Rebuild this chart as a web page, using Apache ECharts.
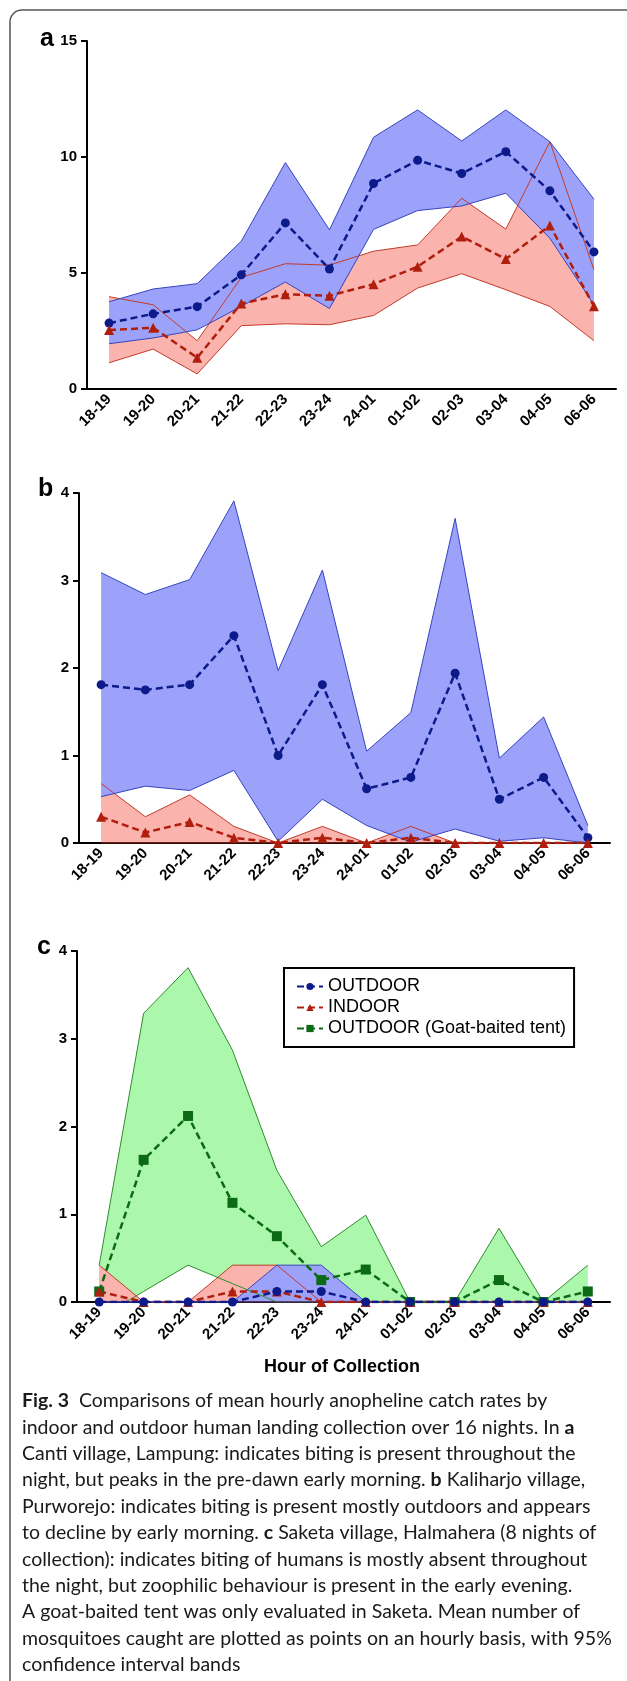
<!DOCTYPE html>
<html><head><meta charset="utf-8">
<script src="https://cdn.jsdelivr.net/npm/echarts/dist/echarts.min.js"></script>
<style>html,body{margin:0;padding:0;background:#fff}#c{width:627px;height:1681px}</style>
</head><body><div id="c"></div>
<script>
// ---------- data ----------
const categories = ['18-19','19-20','20-21','21-22','22-23','23-24','24-01','01-02','02-03','03-04','04-05','06-06'];

// panel a (Canti village, Lampung)
const aOutMean  = [2.84,3.24,3.55,4.92,7.16,5.17,8.86,9.86,9.29,10.23,8.54,5.91];
const aOutUpper = [3.76,4.31,4.54,6.37,9.76,6.86,10.85,12.03,10.69,12.03,10.66,8.18];
const aOutLower = [1.95,2.20,2.55,3.56,4.61,3.47,6.88,7.69,7.89,8.44,6.50,3.63];
const aInMean   = [2.54,2.64,1.35,3.69,4.08,4.02,4.52,5.27,6.57,5.60,7.05,3.57];
const aInUpper  = [3.98,3.63,2.08,4.81,5.40,5.34,5.94,6.21,8.22,6.89,10.66,5.14];
const aInLower  = [1.13,1.72,0.65,2.73,2.81,2.77,3.17,4.35,4.97,4.28,3.56,2.08];

// panel b (Kaliharjo village, Purworejo)
const bOutMean  = [1.81,1.75,1.81,2.37,1.00,1.81,0.62,0.75,1.94,0.50,0.75,0.06];
const bOutUpper = [3.09,2.84,3.01,3.91,1.97,3.12,1.05,1.49,3.71,0.97,1.44,0.20];
const bOutLower = [0.53,0.65,0.60,0.83,0.02,0.50,0.20,0.01,0.16,0.02,0.06,0.00];
const bInMean   = [0.30,0.12,0.24,0.06,0,0.06,0,0.06,0,0,0,0];
const bInUpper  = [0.68,0.30,0.55,0.19,0,0.19,0,0.19,0,0,0,0];
const bInLower  = [0,0,0,0,0,0,0,0,0,0,0,0];

// panel c (Saketa village, Halmahera)
const cOutMean   = [0,0,0,0,0.12,0.12,0,0,0,0,0,0];
const cOutUpper  = [0,0,0,0,0.42,0.42,0,0,0,0,0,0];
const cOutLower  = [0,0,0,0,0,0,0,0,0,0,0,0];
const cInMean    = [0.12,0,0,0.12,0.12,0,0,0,0,0,0,0];
const cInUpper   = [0.42,0,0,0.42,0.42,0,0,0,0,0,0,0];
const cInLower   = [0,0,0,0,0,0,0,0,0,0,0,0];
const cGoatMean  = [0.12,1.62,2.12,1.13,0.75,0.25,0.37,0,0,0.25,0,0.12];
const cGoatUpper = [0.42,3.29,3.81,2.87,1.50,0.63,0.99,0,0,0.84,0,0.42];
const cGoatLower = [-0.18,0.12,0.42,0.21,0,0,0,0,0,0,0,0];

const yTicksA = {min:0, max:15, interval:5};
const yTicksBC = {min:0, max:4, interval:1};

const legendNames = ['OUTDOOR','INDOOR','OUTDOOR (Goat-baited tent)'];
const xTitle = 'Hour of Collection';
const captionLines = [
  '{b|Fig. 3}  Comparisons of mean hourly anopheline catch rates by',
  'indoor and outdoor human landing collection over 16 nights. In {b|a}',
  'Canti village, Lampung: indicates biting is present throughout the',
  'night, but peaks in the pre-dawn early morning. {b|b} Kaliharjo village,',
  'Purworejo: indicates biting is present mostly outdoors and appears',
  'to decline by early morning. {b|c} Saketa village, Halmahera (8 nights of',
  'collection): indicates biting of humans is mostly absent throughout',
  'the night, but zoophilic behaviour is present in the early evening.',
  'A goat-baited tent was only evaluated in Saketa. Mean number of',
  'mosquitoes caught are plotted as points on an hourly basis, with 95%',
  'confidence interval bands'
];

// ---------- styles ----------
const COL = {
  blue:  {mean:'#0c1a8a', edge:'#3543bf', fill:'#9ca2f9'},
  red:   {mean:'#b01e0e', edge:'#c23a2a', fill:'#fbb3ae'},
  green: {mean:'#0b6a16', edge:'#2f8c2f', fill:'#abf7ab'}
};
const AXF = "'Liberation Sans',Arial,sans-serif";
const CAPF = "Lato,'Open Sans',sans-serif";

function band(gi, key, lower, upper, col, z) {
  const diff = upper.map((u, i) => +(u - lower[i]).toFixed(4));
  const st = 'band' + gi + key;
  return [
    {type:'line', name:key+' lower', xAxisIndex:gi, yAxisIndex:gi, data:lower, stack:st, stackStrategy:'all',
     symbol:'none', lineStyle:{width:0, opacity:0}, silent:true, z:z},
    {type:'line', name:key+' 95% CI', xAxisIndex:gi, yAxisIndex:gi, data:diff, stack:st, stackStrategy:'all',
     symbol:'none', lineStyle:{width:0, opacity:0}, areaStyle:{color:col.fill, opacity:1}, silent:true, z:z},
    {type:'line', name:key+' lower edge', xAxisIndex:gi, yAxisIndex:gi, data:lower, symbol:'none',
     lineStyle:{width:1, color:col.edge}, silent:true, z:6},
    {type:'line', name:key+' upper edge', xAxisIndex:gi, yAxisIndex:gi, data:upper, symbol:'none',
     lineStyle:{width:1, color:col.edge}, silent:true, z:6}
  ];
}
function mean(gi, name, data, col, symbol, size) {
  return {type:'line', name:name, xAxisIndex:gi, yAxisIndex:gi, data:data, symbol:symbol, symbolSize:size,
    itemStyle:{color:col.mean}, lineStyle:{color:col.mean, width:2.5, type:[7,4]}, z:8};
}

const grids = [
  {left:87, top:41, width:529, height:348},
  {left:79, top:493, width:531, height:350},
  {left:77, top:951, width:533, height:351}
];
const xAxes = grids.map((g, i) => ({
  gridIndex:i, type:'category', data:categories, boundaryGap:true, z:5,
  axisLine:{lineStyle:{color:'#000', width:2}},
  axisTick:{alignWithLabel:true, length:6, lineStyle:{color:'#000', width:2}},
  axisLabel:{rotate:45, interval:0, margin:8, color:'#000', fontWeight:'bold', fontSize:15, fontFamily:AXF}
}));
const yAxes = grids.map((g, i) => {
  const t = i === 0 ? yTicksA : yTicksBC;
  return {gridIndex:i, type:'value', min:t.min, max:t.max, interval:t.interval, z:5,
    splitLine:{show:false},
    axisLine:{show:true, lineStyle:{color:'#000', width:2}},
    axisTick:{show:true, length:6, lineStyle:{color:'#000', width:2}},
    axisLabel:{margin:10, color:'#000', fontWeight:'bold', fontSize:15, fontFamily:AXF}};
});

const series = [].concat(
  // a
  band(0,'INDOOR', aInLower, aInUpper, COL.red, 2),
  band(0,'OUTDOOR', aOutLower, aOutUpper, COL.blue, 3),
  [mean(0,'OUTDOOR', aOutMean, COL.blue, 'circle', 9), mean(0,'INDOOR', aInMean, COL.red, 'triangle', 10)],
  // b
  band(1,'INDOOR', bInLower, bInUpper, COL.red, 2),
  band(1,'OUTDOOR', bOutLower, bOutUpper, COL.blue, 3),
  [mean(1,'OUTDOOR', bOutMean, COL.blue, 'circle', 9), mean(1,'INDOOR', bInMean, COL.red, 'triangle', 10)],
  // c
  band(2,'GOAT', cGoatLower, cGoatUpper, COL.green, 2),
  band(2,'INDOOR', cInLower, cInUpper, COL.red, 3),
  band(2,'OUTDOOR', cOutLower, cOutUpper, COL.blue, 4),
  [mean(2,'OUTDOOR (Goat-baited tent)', cGoatMean, COL.green, 'rect', 10),
   mean(2,'INDOOR', cInMean, COL.red, 'triangle', 10),
   mean(2,'OUTDOOR', cOutMean, COL.blue, 'circle', 9)]
);

const graphics = [
  {type:'rect', shape:{x:10, y:10, width:720, height:1720, r:12}, style:{fill:'none', stroke:'#555', lineWidth:1.5}, silent:true},
  {type:'text', left:40, top:27, style:{text:'a', font:"bold 25px 'Liberation Sans',Arial,sans-serif", fill:'#000'}},
  {type:'text', left:38, top:477, style:{text:'b', font:"bold 25px 'Liberation Sans',Arial,sans-serif", fill:'#000'}},
  {type:'text', left:37, top:935, style:{text:'c', font:"bold 25px 'Liberation Sans',Arial,sans-serif", fill:'#000'}},
  {type:'text', x:342, y:1367, style:{text:xTitle, font:"bold 18px 'Liberation Sans',Arial,sans-serif", fill:'#000', textAlign:'center', textVerticalAlign:'middle'}}
];
captionLines.forEach((ln, i) => {
  graphics.push({type:'text', x:22, y:1401 + i*26.4, style:{
    text:ln, fontFamily:CAPF, fontSize:19.5, fill:'#1a1a1a', textAlign:'left', textVerticalAlign:'middle',
    rich:{b:{fontFamily:CAPF, fontSize:19.5, fontWeight:'bold', fill:'#1a1a1a'}}
  }});
});

const chart = echarts.init(document.getElementById('c'));
chart.setOption({
  animation:false,
  grid:grids, xAxis:xAxes, yAxis:yAxes, series:series,
  legend:{data:legendNames, orient:'vertical', left:284, top:968, selectedMode:false,
    borderColor:'#000', borderWidth:2, padding:[8,8,8,12], itemGap:0, itemWidth:26, itemHeight:9,
    textStyle:{fontSize:18, lineHeight:21, fontFamily:AXF, color:'#000'}},
  graphic:graphics
});
</script></body></html>
